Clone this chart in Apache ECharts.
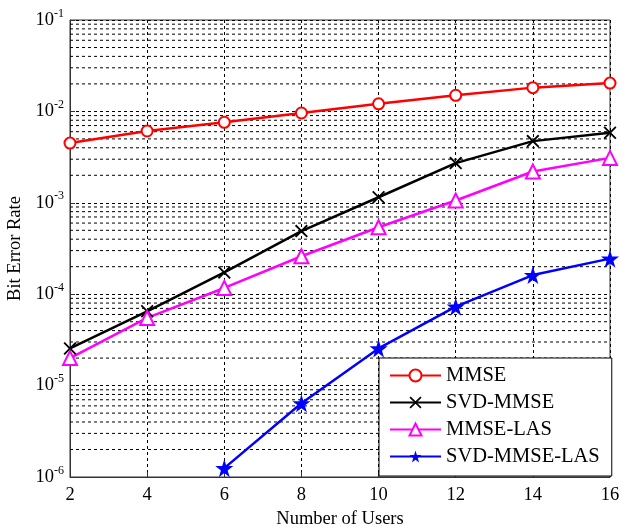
<!DOCTYPE html>
<html>
<head>
<meta charset="utf-8">
<script src="https://cdn.jsdelivr.net/npm/echarts@6/dist/echarts.min.js"></script>
<style>html,body{margin:0;padding:0;background:#fff;}#c{width:622px;height:526px;}</style>
</head>
<body>
<div id="c"></div>
<script>
const users = [2, 4, 6, 8, 10, 12, 14, 16];
const mmse = [4.5e-3, 6.1e-3, 7.6e-3, 9.6e-3, 1.21e-2, 1.5e-2, 1.82e-2, 2.04e-2];
const svdMmse = [2.55e-5, 6.5e-5, 1.73e-4, 4.9e-4, 1.15e-3, 2.72e-3, 4.73e-3, 5.85e-3];
const mmseLas = [2.0e-5, 5.5e-5, 1.17e-4, 2.6e-4, 5.4e-4, 1.06e-3, 2.2e-3, 3.1e-3];
const svdMmseLas = [null, null, 1.25e-6, 6.4e-6, 2.55e-5, 7.3e-5, 1.62e-4, 2.45e-4];
const seriesNames = ['MMSE', 'SVD-MMSE', 'MMSE-LAS', 'SVD-MMSE-LAS'];
const minorDecades = [-6, -5, -4, -3, -2];
const minorMultipliers = [2, 3, 4, 5, 6, 7, 8, 9];
const xRange = [2, 16];

const FONT = '"Liberation Serif", "Times New Roman", serif';
const minorValues = [];
minorDecades.forEach(d => minorMultipliers.forEach(m => minorValues.push(m * Math.pow(10, d))));

const pair = arr => users.map((u, i) => [u, arr[i]]);
const xSym = 'path://M0,1L1,0L5,4L9,0L10,1L6,5L10,9L9,10L5,6L1,10L0,9L4,5Z';
const starSym = 'path://M50,0L61,35L98,35L68,57L79,91L50,70L21,91L32,57L2,35L39,35Z';

const gridSeries = minorValues.map(v => ({
  name: 'minor' + v, type: 'line', data: [[xRange[0], v], [xRange[1], v]],
  z: 0, silent: true, symbol: 'none', animation: false,
  lineStyle: { type: [3, 3], color: '#000', width: 1 },
  emphasis: { disabled: true }, tooltip: { show: false }
}));

const chart = echarts.init(document.getElementById('c'), null, { renderer: 'canvas' });
chart.setOption({
  animation: false,
  backgroundColor: '#fff',
  grid: { left: 70, right: 12, top: 20, bottom: 49, show: true, borderColor: '#333', borderWidth: 1, containLabel: false, outerBoundsMode: 'none' },
  legend: {
    data: seriesNames,
    orient: 'vertical',
    left: 379, top: 358,
    itemWidth: 51, itemHeight: 15, itemGap: 6,
    padding: [7, 12, 9, 10],
    backgroundColor: '#fff',
    borderColor: '#000', borderWidth: 1,
    textStyle: { fontFamily: FONT, fontSize: 20.5, color: '#000' },
    selectedMode: false
  },
  xAxis: {
    type: 'value', min: xRange[0], max: xRange[1], interval: 2,
    name: 'Number of Users', nameLocation: 'middle', nameGap: 31,
    nameTextStyle: { fontFamily: FONT, fontSize: 18.5, color: '#000' },
    axisLine: { show: true, lineStyle: { color: '#333' } },
    axisTick: { inside: true, length: 5, lineStyle: { color: '#333' } },
    axisLabel: { fontFamily: FONT, fontSize: 18.5, color: '#000', margin: 9 },
    splitLine: { show: true, lineStyle: { type: [3, 3], color: '#000', width: 1 } }
  },
  yAxis: {
    type: 'log', logBase: 10, min: 1e-6, max: 1e-1, interval: 1,
    name: 'Bit Error Rate', nameLocation: 'middle', nameGap: 43,
    nameTextStyle: { fontFamily: FONT, fontSize: 18.5, color: '#000' },
    axisLine: { show: true, lineStyle: { color: '#333' } },
    axisTick: { inside: true, length: 5, lineStyle: { color: '#333' } },
    axisLabel: {
      margin: 6,
      formatter: v => '{b|10}{s|' + Math.round(Math.log10(v)) + '}',
      rich: {
        b: { fontFamily: FONT, fontSize: 18.5, color: '#000' },
        s: { fontFamily: FONT, fontSize: 12, color: '#000', verticalAlign: 'bottom', padding: [0, 0, 13, 0] }
      }
    },
    splitLine: { show: true, lineStyle: { type: [3, 3], color: '#000', width: 1 } }
  },
  series: gridSeries.concat([
    {
      name: 'MMSE', type: 'line', data: pair(mmse), z: 5,
      symbol: 'circle', symbolSize: 11, showAllSymbol: true,
      lineStyle: { color: '#ff0000', width: 2.5 },
      itemStyle: { color: '#fff', borderColor: '#ff0000', borderWidth: 2 }
    },
    {
      name: 'SVD-MMSE', type: 'line', data: pair(svdMmse), z: 5,
      symbol: xSym, symbolSize: 13,
      lineStyle: { color: '#000', width: 2.5 },
      itemStyle: { color: '#000' }
    },
    {
      name: 'MMSE-LAS', type: 'line', data: pair(mmseLas), z: 5,
      symbol: 'triangle', symbolSize: 14,
      lineStyle: { color: '#ff00ff', width: 2.5 },
      itemStyle: { color: '#fff', borderColor: '#ff00ff', borderWidth: 2 }
    },
    {
      name: 'SVD-MMSE-LAS', type: 'line', data: pair(svdMmseLas), z: 5,
      symbol: starSym, symbolSize: 18,
      lineStyle: { color: '#0000ff', width: 2.5 },
      itemStyle: { color: '#0000ff' }
    }
  ])
});
</script>
</body>
</html>
